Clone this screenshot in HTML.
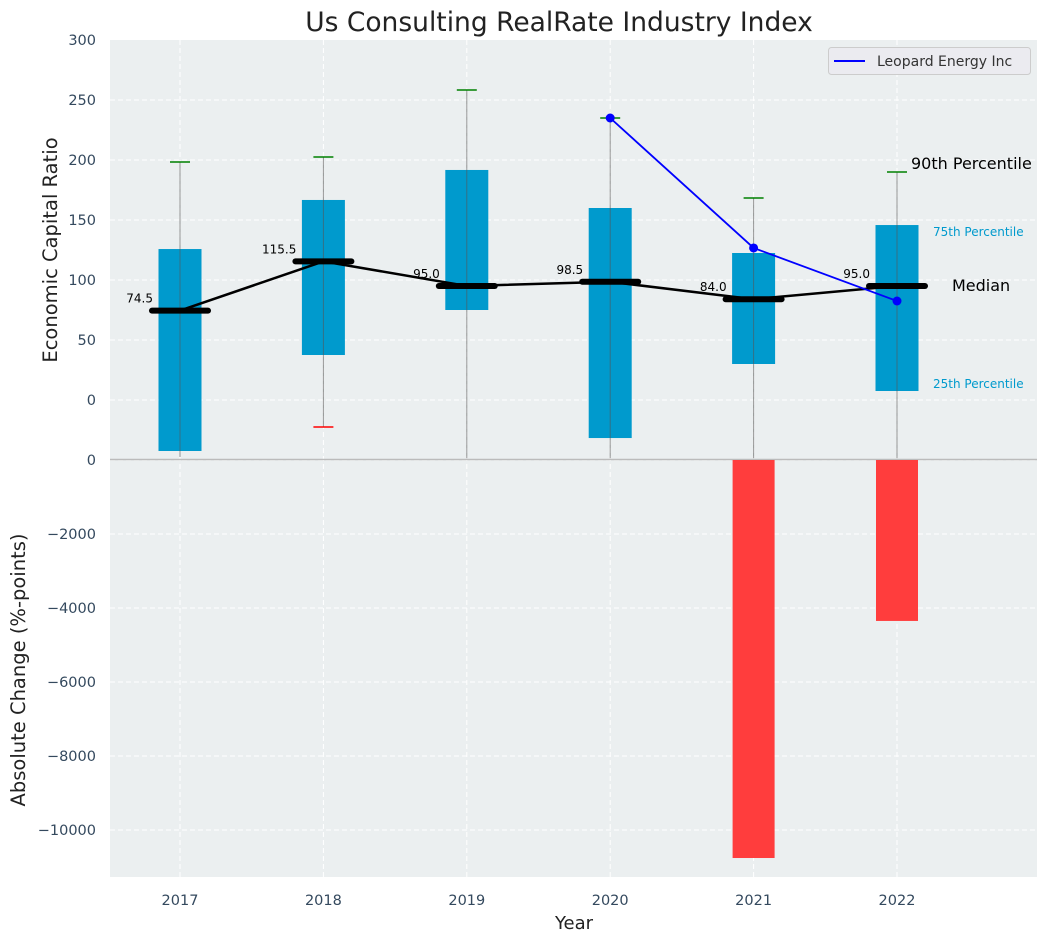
<!DOCTYPE html>
<html><head><meta charset="utf-8"><style>
body{margin:0;background:#fff;}
svg{display:block;font-family:"DejaVu Sans","Liberation Sans",sans-serif;}
.tick{fill:#34495e;font-size:14.5px;}
</style></head><body>
<svg id="chart" width="1048" height="942" xmlns="http://www.w3.org/2000/svg">
<text x="559" y="31" text-anchor="middle" font-size="26.5" fill="#222">Us Consulting RealRate Industry Index</text>
<text x="57" y="250" text-anchor="middle" font-size="19.5" fill="#222" transform="rotate(-90 57 250)">Economic Capital Ratio</text>
<text x="25" y="670" text-anchor="middle" font-size="19.5" fill="#222" transform="rotate(-90 25 670)">Absolute Change (%-points)</text>
<text x="574" y="929" text-anchor="middle" font-size="18" fill="#222">Year</text>
<g id="g"></g>
</svg>
<script>
const years=[2017,2018,2019,2020,2021,2022];
const q1=[-42.5,37.5,75,-31.7,30,7.5];
const q3=[125.8,166.7,191.7,160,122.5,145.8];
const medians=[74.5,115.5,95,98.5,84,95];
const p90=[198.3,202.5,258.3,235,168.3,190];
const p10=[null,-22.5,null,null,null,null];
const whiskerLow=[-47.5,-22.5,-48.5,-48.5,-48.5,-48.5];
const companyYears=[2020,2021,2022];
const companyVals=[235,126.7,82.5];
const changes=[0,0,0,0,-10757,-4350];
const topTicks=[-50,0,50,100,150,200,250,300];
const botTicks=[-10000,-8000,-6000,-4000,-2000,0];

const NS="http://www.w3.org/2000/svg";
const g=document.getElementById('g');
const X=y=>180+(y-2017)*143.4;
const YT=v=>400-1.2*v;
const YB=v=>460-0.037*v;
function el(t,a,txt){const e=document.createElementNS(NS,t);for(const k in a)e.setAttribute(k,a[k]);if(txt!==undefined)e.textContent=txt;g.appendChild(e);return e;}

let e;
e=el('rect',{x:110,y:40,width:927,height:419,fill:'#ebeff0'});

e=el('rect',{x:110,y:460,width:927,height:417,fill:'#ebeff0'});

topTicks.forEach(t=>{
 if(t>-50&&t<300){e=el('line',{x1:110,x2:1037,y1:YT(t),y2:YT(t),stroke:'#fff','stroke-dasharray':'5,3','stroke-width':1});
 }
 if(t>-50){e=el('text',{x:96,y:YT(t)+5,'text-anchor':'end',class:'tick'},String(t));
 }
});
botTicks.forEach(t=>{
 e=el('line',{x1:110,x2:1037,y1:YB(t),y2:YB(t),stroke:'#fff','stroke-dasharray':'5,3','stroke-width':1});
 
 e=el('text',{x:96,y:YB(t)+5,'text-anchor':'end',class:'tick'},t<0?'\u2212'+Math.abs(t):String(t));
 
});
years.forEach(y=>{
 e=el('line',{x1:X(y),x2:X(y),y1:40,y2:877,stroke:'#fff','stroke-dasharray':'5,3','stroke-width':1});
 
 e=el('text',{x:X(y),y:905,'text-anchor':'middle',class:'tick'},String(y));
 
});
e=el('line',{x1:110,x2:1037,y1:459.5,y2:459.5,stroke:'#bbb','stroke-width':1.5});


years.forEach((y,i)=>{
 const x=X(y);
 e=el('rect',{x:x-21.5,y:YT(q3[i]),width:43,height:YT(q1[i])-YT(q3[i]),fill:'#009acd'});
 
 e=el('line',{x1:x,x2:x,y1:YT(p90[i]),y2:YT(whiskerLow[i]),stroke:'#555','stroke-opacity':0.6,'stroke-width':1});
 
 e=el('line',{x1:x-10,x2:x+10,y1:YT(p90[i]),y2:YT(p90[i]),stroke:'green','stroke-width':1.5});
 
 if(p10[i]!==null){e=el('line',{x1:x-10,x2:x+10,y1:YT(p10[i]),y2:YT(p10[i]),stroke:'red','stroke-width':1.5});
 }
 if(changes[i]!==0){e=el('rect',{x:x-21,y:460,width:42,height:YB(changes[i])-460,fill:'#ff3d3d'});
 }
});
e=el('polyline',{points:years.map((y,i)=>X(y)+','+YT(medians[i])).join(' '),fill:'none',stroke:'#000','stroke-width':2.5});

years.forEach((y,i)=>{
 const x=X(y);
 e=el('line',{x1:x-28,x2:x+28,y1:YT(medians[i]),y2:YT(medians[i]),stroke:'#000','stroke-width':6,'stroke-linecap':'round'});
 
 e=el('text',{x:x-27,y:YT(medians[i])-8,'text-anchor':'end','font-size':12,fill:'#000'},medians[i].toFixed(1));
 
});
e=el('polyline',{points:companyYears.map((y,i)=>X(y)+','+YT(companyVals[i])).join(' '),fill:'none',stroke:'#0000ff','stroke-width':1.8});

companyYears.forEach((y,i)=>{
 e=el('circle',{cx:X(y),cy:YT(companyVals[i]),r:4.5,fill:'#0000ff'});
 
});
e=el('text',{x:911,y:169,'font-size':16,fill:'#000'},'90th Percentile');

e=el('text',{x:933,y:236,'font-size':12,fill:'#009acd'},'75th Percentile');

e=el('text',{x:952,y:291,'font-size':16,fill:'#000'},'Median');

e=el('text',{x:933,y:388,'font-size':12,fill:'#009acd'},'25th Percentile');

e=el('rect',{x:828.5,y:47.5,width:202,height:27,rx:3,fill:'#ebebf0',stroke:'#ccc'});

e=el('line',{x1:834,x2:865,y1:61,y2:61,stroke:'#0000ff','stroke-width':2});

e=el('text',{x:877,y:66,'font-size':14,fill:'#333'},'Leopard Energy Inc');

</script>
</body></html>
